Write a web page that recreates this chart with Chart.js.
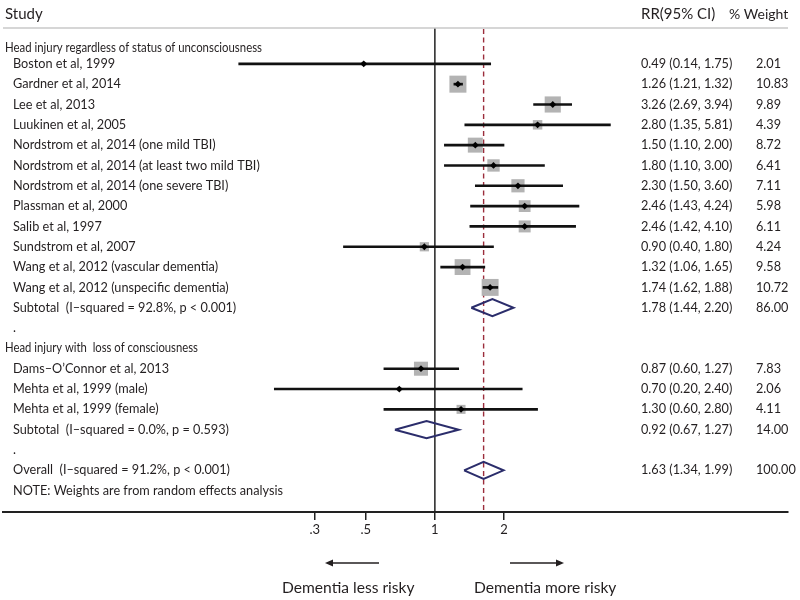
<!DOCTYPE html>
<html><head><meta charset="utf-8">
<script src="https://cdn.jsdelivr.net/npm/chart.js@4.4.1/dist/chart.umd.min.js"></script>
<style>html,body{margin:0;padding:0;background:#fff}#wrap{width:800px;height:600px;position:relative}</style>
</head><body><div id="wrap"><canvas id="c"></canvas></div>
<script>
// ---- data ----
const rowLabels = [
  'Head injury regardless of status of unconsciousness',
  'Boston et al, 1999',
  'Gardner et al, 2014',
  'Lee et al, 2013',
  'Luukinen et al, 2005',
  'Nordstrom et al, 2014 (one mild TBI)',
  'Nordstrom et al, 2014 (at least two mild TBI)',
  'Nordstrom et al, 2014 (one severe TBI)',
  'Plassman et al, 2000',
  'Salib et al, 1997',
  'Sundstrom et al, 2007',
  'Wang et al, 2012 (vascular dementia)',
  'Wang et al, 2012 (unspecific dementia)',
  'Subtotal  (I\u2013squared = 92.8%, p < 0.001)',
  '.',
  'Head injury with  loss of consciousness',
  'Dams\u2013O\u2019Connor et al, 2013',
  'Mehta et al, 1999 (male)',
  'Mehta et al, 1999 (female)',
  'Subtotal  (I\u2013squared = 0.0%, p = 0.593)',
  '.',
  'Overall  (I\u2013squared = 91.2%, p < 0.001)',
  'NOTE: Weights are from random effects analysis'
];
const headerRows = [0, 15];
const studyRows = [1,2,3,4,5,6,7,8,9,10,11,12,16,17,18];
const studyRR     = [0.49,1.26,3.26,2.80,1.50,1.80,2.30,2.46,2.46,0.90,1.32,1.74,0.87,0.70,1.30];
const studyLo     = [0.14,1.21,2.69,1.35,1.10,1.10,1.50,1.43,1.42,0.40,1.06,1.62,0.60,0.20,0.60];
const studyHi     = [1.75,1.32,3.94,5.81,2.00,3.00,3.60,4.24,4.10,1.80,1.65,1.88,1.27,2.40,2.80];
const studyWeight = [2.01,10.83,9.89,4.39,8.72,6.41,7.11,5.98,6.11,4.24,9.58,10.72,7.83,2.06,4.11];
const pooledRows   = [13,19,21];
const pooledRR     = [1.78,0.92,1.63];
const pooledLo     = [1.44,0.67,1.34];
const pooledHi     = [2.20,1.27,1.99];
const pooledWeight = [86.00,14.00,100.00];
const overallRR = 1.63;
const xTicks = [0.3,0.5,1,2];
const xTickLabels = ['.3','.5','1','2'];

// ---- styling ----
const FONT = 'Lato';
const TXT = '#231f20';
function boxSide(w){ return 17*Math.sqrt(Math.max(w-1.5,0)/9.3); }
const fmt = (rr,lo,hi) => rr.toFixed(2)+' ('+lo.toFixed(2)+', '+hi.toFixed(2)+')';

const ciData = studyRows.map((r,i)=>({y:r, x:[studyLo[i], studyHi[i]]}));
const ptData = studyRows.map((r,i)=>({x:studyRR[i], y:r}));
const DH = 0.42; // diamond half-height in rows
const diamondSets = pooledRows.map((r,i)=>({
  type:'scatter', showLine:true, order:0,
  data:[{x:pooledLo[i],y:r},{x:pooledRR[i],y:r-DH},{x:pooledHi[i],y:r},{x:pooledRR[i],y:r+DH},{x:pooledLo[i],y:r}],
  borderColor:'#2b2d6b', borderWidth:2, pointRadius:0, fill:false, tension:0
}));

const textPlugin = {
  id:'forestText',
  beforeDatasetsDraw(chart){
    const {ctx, chartArea:a, scales:{x}} = chart;
    ctx.save();
    const x1 = x.getPixelForValue(1);
    ctx.strokeStyle='#222'; ctx.lineWidth=1.5;
    ctx.beginPath(); ctx.moveTo(x1,a.top); ctx.lineTo(x1,a.bottom); ctx.stroke();
    const xo = x.getPixelForValue(overallRR);
    ctx.strokeStyle='#9b2d3c'; ctx.lineWidth=1.4; ctx.setLineDash([5,3.5]);
    ctx.beginPath(); ctx.moveTo(xo,a.top+1); ctx.lineTo(xo,a.bottom); ctx.stroke();
    ctx.restore();
  },
  afterDraw(chart){
    const {ctx, chartArea:a, scales:{y}} = chart;
    ctx.save();
    ctx.fillStyle=TXT; ctx.textBaseline='middle'; ctx.textAlign='left';
    ctx.font='15px '+FONT; ctx.fillText('Study',5,14);
    ctx.fillText('RR(95% CI)',641,14);
    ctx.font='14px '+FONT; ctx.fillText('% Weight',729,14);
    ctx.strokeStyle='#c8c8c8'; ctx.lineWidth=1.5;
    ctx.beginPath(); ctx.moveTo(a.left,a.top); ctx.lineTo(a.right,a.top); ctx.stroke();
    const hdrW = {0:257, 15:193};
    rowLabels.forEach((t,r)=>{
      const isHdr = headerRows.includes(r);
      const py = y.getPixelForValue(r) + (r===0?4:0);
      if (isHdr) { ctx.font='12.7px '+FONT; ctx.fillText(t,5,py,hdrW[r]); }
      else { ctx.font='12.7px '+FONT; ctx.fillText(t,13,py); }
    });
    ctx.font='12.7px '+FONT;
    studyRows.forEach((r,i)=>{
      const py=y.getPixelForValue(r);
      ctx.fillText(fmt(studyRR[i],studyLo[i],studyHi[i]),641,py);
      ctx.fillText(studyWeight[i].toFixed(2),756,py);
    });
    pooledRows.forEach((r,i)=>{
      const py=y.getPixelForValue(r);
      ctx.fillText(fmt(pooledRR[i],pooledLo[i],pooledHi[i]),641,py);
      ctx.fillText(pooledWeight[i].toFixed(2),756,py);
    });
    ctx.strokeStyle=TXT; ctx.fillStyle=TXT; ctx.lineWidth=1.5;
    const ay=563;
    ctx.beginPath(); ctx.moveTo(379,ay); ctx.lineTo(330,ay); ctx.stroke();
    ctx.beginPath(); ctx.moveTo(325,ay); ctx.lineTo(333,ay-3.5); ctx.lineTo(333,ay+3.5); ctx.closePath(); ctx.fill();
    ctx.beginPath(); ctx.moveTo(510,ay); ctx.lineTo(559,ay); ctx.stroke();
    ctx.beginPath(); ctx.moveTo(564,ay); ctx.lineTo(556,ay-3.5); ctx.lineTo(556,ay+3.5); ctx.closePath(); ctx.fill();
    ctx.font='15.6px '+FONT; ctx.textAlign='left';
    ctx.fillText('Dementia less risky',282,588);
    ctx.fillText('Dementia more risky',474,588);
    ctx.restore();
  }
};

new Chart(document.getElementById('c'), {
  type:'scatter',
  data:{ datasets:[
    { type:'scatter', order:3, data:ptData, pointStyle:'rect',
      pointRadius:(c)=>boxSide(studyWeight[c.dataIndex])/(2*Math.SQRT1_2),
      pointHoverRadius:(c)=>boxSide(studyWeight[c.dataIndex])/(2*Math.SQRT1_2),
      backgroundColor:'#b3b3b3', borderWidth:0 },
    { type:'bar', indexAxis:'y', order:2, data:ciData, barThickness:2,
      backgroundColor:'#111', borderWidth:0, borderSkipped:false },
    { type:'scatter', order:1, data:ptData, pointStyle:'rectRot', pointRadius:3.4,
      backgroundColor:'#000', borderWidth:0 },
    ...diamondSets
  ]},
  options:{
    responsive:true, maintainAspectRatio:false, animation:false,
    layout:{autoPadding:false, padding:{left:3,right:12,top:28,bottom:58}},
    plugins:{legend:{display:false}, tooltip:{enabled:false}},
    scales:{
      x:{ type:'logarithmic', position:'bottom', bounds:'data',
          min:0.01318, max:34.46, offset:false,
          afterBuildTicks:(s)=>{ s.ticks = xTicks.map(v=>({value:v})); },
          afterFit:(s)=>{ s.height=30; },
          ticks:{ autoSkip:false, maxRotation:0, padding:2, color:TXT,
                  font:{family:FONT,size:13},
                  callback:(v,i)=>xTickLabels[i] },
          grid:{ display:true, offset:false, drawOnChartArea:false, drawTicks:true, tickLength:8, color:'#222', lineWidth:1.5 },
          border:{ display:true, color:'#222', width:2 }
      },
      y:{ type:'linear', display:false, reverse:true, min:-0.763, max:23.05, offset:false, grid:{offset:false} }
    }
  },
  plugins:[textPlugin]
});
</script></body></html>
